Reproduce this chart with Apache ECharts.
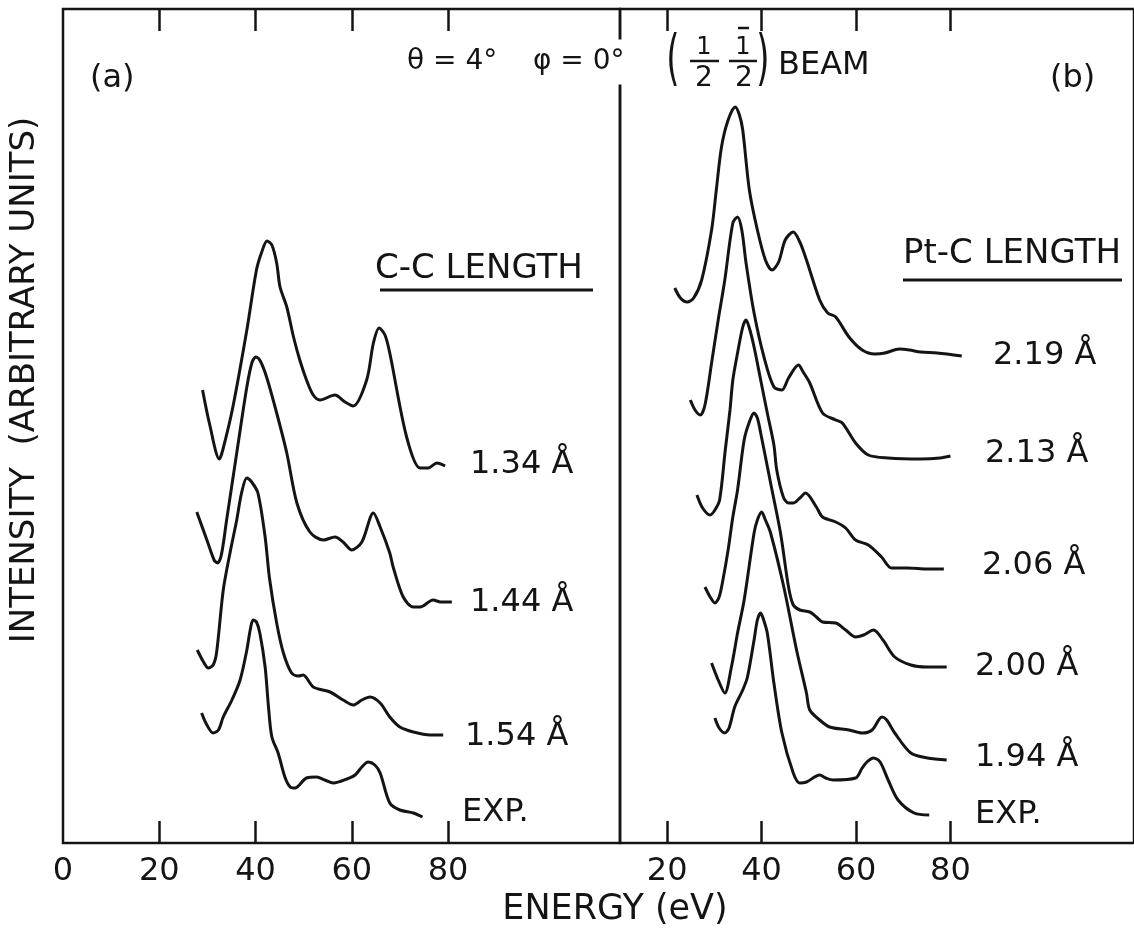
<!DOCTYPE html>
<html>
<head>
<meta charset="utf-8">
<script src="https://cdn.jsdelivr.net/npm/echarts@6/dist/echarts.min.js"></script>
<style>
  html, body { margin: 0; padding: 0; background: #fff; }
  #chart { width: 1134px; height: 928px; }
</style>
</head>
<body>
<div id="chart"></div>
<script>
// [energy (eV), intensity (arbitrary units, curves already offset)]
// panel (a): C-C length
const cc134 = [[29.0,45.3],[30.5,41.8],[32.5,38.4],[33.2,39.3],[35.3,43.6],[38.2,51.3],[40.2,57.3],[41.3,59.1],[42.4,60.2],[43.4,59.8],[44.4,58.0],[45.1,55.6],[46.5,53.6],[47.9,50.6],[49.2,48.3],[50.6,46.3],[52.0,44.8],[53.4,44.3],[56.5,44.8],[58.6,44.1],[60.3,43.7],[63.1,46.3],[64.5,50.0],[65.7,51.5],[66.9,50.8],[67.9,49.0],[71.4,40.6],[74.2,37.5],[75.9,37.5],[77.7,38.0],[79.4,37.7]];
const cc144 = [[27.8,33.1],[29.9,30.3],[31.4,28.3],[32.1,28.0],[32.9,28.8],[34.0,32.3],[36.1,39.0],[38.2,45.6],[39.3,48.1],[40.1,48.6],[41.0,48.2],[42.3,46.6],[44.4,43.0],[46.5,39.0],[48.6,34.0],[51.3,31.1],[54.1,30.3],[56.5,30.6],[58.2,30.1],[60.0,29.3],[62.1,30.1],[64.5,33.0],[65.9,31.6],[67.9,29.0],[68.6,27.6],[70.7,24.6],[72.8,23.6],[74.2,23.6],[76.9,24.3],[78.5,24.1],[80.8,24.1]];
const cc154 = [[27.9,19.3],[29.2,18.1],[30.2,17.5],[31.2,17.8],[31.9,19.0],[33.3,25.3],[34.7,29.0],[36.1,32.3],[37.1,35.0],[38.2,36.5],[39.2,36.1],[40.5,35.0],[42.0,30.6],[42.9,26.5],[44.4,22.0],[45.8,19.0],[47.5,17.0],[48.9,16.7],[49.9,16.8],[52.0,15.6],[55.5,15.1],[58.2,14.3],[60.3,13.8],[62.1,14.3],[63.8,14.6],[65.9,14.0],[67.9,12.6],[70.0,11.6],[72.8,11.1],[76.3,10.8],[79.0,10.8]];
const ccExp = [[28.8,13.0],[29.9,11.8],[31.2,11.0],[32.3,11.3],[33.3,12.6],[35.1,14.3],[36.8,16.3],[38.2,19.3],[38.9,21.3],[39.5,22.3],[40.2,22.1],[40.9,21.0],[42.0,17.6],[42.7,13.6],[43.4,10.6],[44.7,9.0],[46.1,6.6],[47.2,5.6],[48.2,5.5],[50.6,6.5],[52.7,6.6],[54.4,6.3],[56.2,6.0],[59.0,6.4],[60.7,6.8],[62.1,7.6],[63.4,8.1],[64.8,7.8],[65.9,7.0],[67.9,4.0],[70.0,3.3],[72.8,3.0],[74.7,2.6]];

// panel (b): Pt-C length
const pt219 = [[21.6,55.5],[22.8,54.5],[24.2,54.1],[25.6,54.5],[27.3,56.3],[29.4,61.3],[30.4,65.3],[31.5,69.6],[32.9,72.3],[34.4,73.6],[35.3,72.8],[36.0,71.3],[37.4,65.3],[39.1,61.3],[40.8,58.3],[42.2,57.3],[43.6,58.1],[45.0,60.3],[46.7,61.1],[48.1,60.1],[49.5,58.3],[52.3,54.3],[54.0,53.0],[55.7,52.6],[58.5,50.6],[61.3,49.3],[64.0,48.9],[66.1,49.0],[69.2,49.4],[71.3,49.3],[73.7,49.1],[77.2,49.0],[82.4,48.7]];
const pt213 = [[24.9,44.3],[25.9,43.3],[27.0,42.8],[28.0,43.8],[29.4,48.0],[30.8,52.3],[32.2,56.3],[33.9,62.0],[34.9,62.6],[35.8,61.3],[36.7,58.0],[38.4,53.0],[40.5,48.6],[42.6,45.6],[44.3,45.3],[45.7,46.5],[47.8,47.8],[48.8,47.1],[50.2,46.0],[52.9,43.0],[55.7,42.3],[57.1,42.0],[59.9,40.0],[62.6,38.8],[66.8,38.5],[73.7,38.4],[77.8,38.5],[80.0,38.7]];
const pt206 = [[26.3,34.8],[27.5,33.5],[29.1,32.8],[30.1,33.3],[31.1,34.3],[32.3,39.3],[33.3,43.3],[33.9,46.3],[34.9,49.0],[36.0,51.6],[36.7,52.3],[37.4,51.5],[38.4,49.6],[39.8,46.3],[41.2,43.0],[42.6,39.8],[43.2,37.3],[44.6,34.6],[45.7,34.0],[46.7,34.0],[48.1,34.5],[49.3,35.0],[51.6,33.6],[52.9,32.6],[55.7,32.1],[57.8,31.5],[59.9,30.3],[62.6,29.8],[65.4,28.6],[67.5,27.5],[70.9,27.5],[75.1,27.4],[78.6,27.4]];
const pt200 = [[28.0,25.6],[29.1,24.6],[30.1,24.0],[31.0,24.6],[31.8,26.3],[32.9,29.3],[33.9,32.6],[34.9,35.3],[36.3,40.3],[37.4,42.1],[38.4,43.0],[39.1,42.5],[39.8,41.0],[41.9,36.0],[44.0,31.0],[45.7,25.6],[46.7,23.8],[48.1,23.3],[50.2,23.1],[51.6,22.6],[52.9,22.1],[55.7,22.0],[57.8,21.3],[59.9,20.6],[61.6,20.8],[63.7,21.3],[65.7,20.3],[68.2,18.6],[71.6,17.8],[75.0,17.6],[79.2,17.6]];
const pt194 = [[29.4,18.0],[30.8,16.3],[32.2,15.0],[33.6,17.6],[34.9,21.0],[36.3,24.3],[38.4,31.0],[39.1,32.3],[40.0,33.1],[40.8,32.3],[41.9,31.0],[44.7,25.6],[47.4,19.3],[49.5,15.0],[50.2,13.3],[52.3,12.3],[54.4,11.6],[58.5,11.3],[61.3,11.0],[63.4,11.3],[65.5,12.6],[66.5,12.3],[68.2,11.0],[71.6,9.0],[75.1,8.5],[79.2,8.3]];
const ptExp = [[30.1,12.5],[31.0,11.5],[32.2,11.0],[33.1,11.5],[34.3,13.6],[36.0,15.3],[37.0,16.6],[38.4,20.3],[39.1,22.3],[39.8,23.0],[40.3,22.5],[41.2,21.0],[42.6,16.0],[44.3,11.0],[46.7,7.0],[48.1,6.0],[49.5,6.1],[52.3,6.8],[53.6,6.5],[55.1,6.3],[59.9,6.5],[61.3,7.5],[62.3,8.1],[63.7,8.5],[65.1,8.1],[66.8,6.3],[68.9,4.3],[72.3,3.0],[75.5,2.8]];

const ccNames = ['1.34 Å', '1.44 Å', '1.54 Å', 'EXP.'];
const ptNames = ['2.19 Å', '2.13 Å', '2.06 Å', '2.00 Å', '1.94 Å', 'EXP.'];
const tickValues = [20, 40, 60, 80];
const labelsA = [0, 20, 40, 60, 80];
const labelsB = [20, 40, 60, 80];

// label placement (px, left / vertical middle)
const ccLabelPos = [[470, 465], [470, 603], [465, 737], [462, 813]];
const ptLabelPos = [[993, 356], [985, 454], [982, 566], [975, 667], [975, 758], [975, 815]];

const ink = '#141414';
const FF = '"DejaVu Sans", sans-serif';

const chart = echarts.init(document.getElementById('chart'));

function xAxis(grid, min, max, pos, labels) {
  return {
    type: 'value', gridIndex: grid, min: min, max: max, position: pos,
    axisLine: { show: false },
    splitLine: { show: false },
    axisTick: { show: true, inside: true, length: 22, customValues: tickValues,
      lineStyle: { color: ink, width: 2.5 } },
    axisLabel: labels ? { show: true, customValues: labels, color: ink,
      fontFamily: FF, fontSize: 32, margin: 13 } : { show: false }
  };
}
function yAxis(grid) {
  return { type: 'value', gridIndex: grid, min: 0, max: 83.4, show: false };
}
function curve(data, axis) {
  return {
    type: 'line', data: data, xAxisIndex: axis * 2, yAxisIndex: axis,
    showSymbol: false, smooth: 0.3, silent: true,
    lineStyle: { color: ink, width: 3 }
  };
}
function txt(text, x, y, font, align, extra) {
  extra = extra || {};
  return {
    type: 'text', x: x, y: y, z: 10,
    rotation: extra.rotation || 0, scaleY: extra.scaleY || 1,
    style: Object.assign({ text: text, font: font, fill: ink,
      textAlign: align || 'left', textVerticalAlign: 'middle' }, extra.style || {})
  };
}
function f(size) { return size + 'px ' + FF; }
function seg(x1, y1, x2, y2, w) {
  return { type: 'line', z: 10, shape: { x1: x1, y1: y1, x2: x2, y2: y2 },
    style: { stroke: ink, lineWidth: w || 3 } };
}

const graphics = [
  txt('INTENSITY  (ARBITRARY UNITS)', 25, 380, f(34), 'center', { rotation: Math.PI / 2 }),
  txt('ENERGY (eV)', 615, 910, f(35), 'center'),
  txt('(a)', 90, 79, f(32)),
  txt('(b)', 1050, 79, f(32)),
  txt('θ = 4°', 407, 62, f(28)),
  txt('φ = 0°', 533, 62, f(28), 'left', { style: { backgroundColor: '#fff', padding: [15, 0, 2, 0] } }),
  txt('(', 673, 62, f(34), 'center', { scaleY: 1.8 }),
  txt('1', 704, 48, f(24), 'center'),
  seg(690, 61, 719, 61, 2.5),
  txt('2', 704, 79, f(28), 'center'),
  txt('1', 743, 48, f(24), 'center'),
  seg(738, 28, 749, 28, 2.5),
  seg(729, 61, 757, 61, 2.5),
  txt('2', 744, 79, f(28), 'center'),
  txt(')', 763, 62, f(34), 'center', { scaleY: 1.8 }),
  txt('BEAM', 778, 66, f(32)),
  txt('C-C LENGTH', 375, 269, f(34)),
  seg(380, 290, 593, 290, 3),
  txt('Pt-C LENGTH', 903, 254, f(34)),
  seg(903, 280, 1122, 280, 3)
];
ccNames.forEach(function (n, i) { graphics.push(txt(n, ccLabelPos[i][0], ccLabelPos[i][1], f(32))); });
ptNames.forEach(function (n, i) { graphics.push(txt(n, ptLabelPos[i][0], ptLabelPos[i][1], f(32))); });

const ccSeries = [cc134, cc144, cc154, ccExp].map(function (d) { return curve(d, 0); });
const ptSeries = [pt219, pt213, pt206, pt200, pt194, ptExp].map(function (d) { return curve(d, 1); });

chart.setOption({
  animation: false,
  backgroundColor: '#fff',
  grid: [
    { left: 63, top: 9, width: 557, height: 834, show: true, borderColor: ink, borderWidth: 2.5 },
    { left: 620, top: 9, width: 524, height: 834, show: true, borderColor: ink, borderWidth: 2.5 }
  ],
  xAxis: [
    xAxis(0, 0, 115.74, 'bottom', labelsA),
    xAxis(0, 0, 115.74, 'top', null),
    xAxis(1, 10, 118.88, 'bottom', labelsB),
    xAxis(1, 10, 118.88, 'top', null)
  ],
  yAxis: [yAxis(0), yAxis(1)],
  series: ccSeries.concat(ptSeries),
  graphic: graphics
});
</script>
</body>
</html>
